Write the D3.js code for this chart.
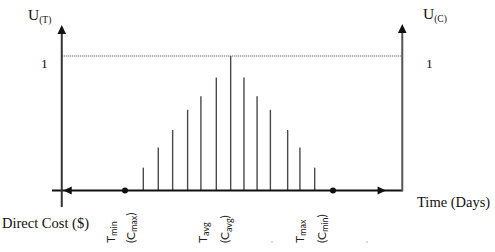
<!DOCTYPE html>
<html><head><meta charset="utf-8">
<script src="https://cdn.jsdelivr.net/npm/d3@7"></script>
<style>body{margin:0;background:#fff}svg{display:block}</style>
</head><body>
<script>
// Data (time positions in normalized units: Tmin = 0, Tmax = 100)
const stemTimes = [8.8, 16.0, 22.9, 30.1, 36.5, 43.9, 50.8, 57.2, 63.5, 69.9, 78.2, 84.1, 91.2];
const stemUtility = [0.17, 0.32, 0.45, 0.60, 0.70, 0.84, 1.0, 0.84, 0.70, 0.60, 0.45, 0.32, 0.17];
const markerTimes = [0, 100];
const maxUtility = 1;
const axisLeftTime = -30.4, axisRightTime = 133.3;
const tickLabels = [
  {main:"T", sub:"min", time:-5},
  {main:"(C", sub:"max", tail:")", time:4.8},
  {main:"T", sub:"avg", time:39.3},
  {main:"(C", sub:"avg", tail:")", time:50},
  {main:"T", sub:"max", time:86},
  {main:"(C", sub:"min", tail:")", time:96.6}
];

const W = 495, H = 252;
const SERIF = '"Liberation Serif"';
const SANS = '"Lato"';
const svg = d3.select("body").append("svg").attr("width", W).attr("height", H);
const x = d3.scaleLinear().domain([0, 100]).range([125, 333]);
const y = d3.scaleLinear().domain([0, 1]).range([190.5, 56]);
const base = y(0);
const xl = x(axisLeftTime), xr = x(axisRightTime);

// dotted max line
svg.append("line").attr("x1", xl).attr("x2", xr).attr("y1", y(maxUtility)).attr("y2", y(maxUtility))
  .attr("stroke", "#444").attr("stroke-width", 1).attr("stroke-dasharray", "1,1");

// stems
svg.selectAll("line.stem").data(stemTimes).join("line").attr("class","stem")
  .attr("x1", d => x(d)).attr("x2", d => x(d))
  .attr("y1", base).attr("y2", (d,i) => y(stemUtility[i]))
  .attr("stroke", "#4a4a4a").attr("stroke-width", 1.4);

// horizontal axis
svg.append("line").attr("x1", 52).attr("x2", xr).attr("y1", base).attr("y2", base)
  .attr("stroke", "#111").attr("stroke-width", 2);
svg.append("path").attr("d", `M${xl+1.5},${base} L${xl+10},${base-4} L${xl+10},${base+4} Z`).attr("fill", "#111");
svg.append("path").attr("d", `M${x(125.5)},${base} L${x(125.5)-8.5},${base-4} L${x(125.5)-8.5},${base+4} Z`).attr("fill", "#111");

// vertical axes
svg.append("line").attr("x1", xl).attr("x2", xl).attr("y1", 33).attr("y2", 207)
  .attr("stroke", "#333").attr("stroke-width", 2);
svg.append("path").attr("d", `M${xl},25 L${xl-4.3},34 L${xl+4.3},34 Z`).attr("fill", "#111");
svg.append("line").attr("x1", xr).attr("x2", xr).attr("y1", 32).attr("y2", base+1)
  .attr("stroke", "#555").attr("stroke-width", 2);
svg.append("path").attr("d", `M${xr},24 L${xr-4.3},33 L${xr+4.3},33 Z`).attr("fill", "#111");

// marker dots
svg.selectAll("circle.m").data(markerTimes).join("circle").attr("class","m")
  .attr("cx", d => x(d)).attr("cy", base).attr("r", 3).attr("fill", "#111");

// serif labels
function serifText(px, py, size, str){
  return svg.append("text").attr("x", px).attr("y", py)
    .style("font-family", SERIF).style("font-size", size + "px").attr("fill", "#111").text(str);
}
function uLabel(px, py, sub){
  const t = svg.append("text").attr("x", px).attr("y", py)
    .style("font-family", SERIF).style("font-size", "15.5px").attr("fill", "#111");
  t.append("tspan").text("U");
  t.append("tspan").style("font-size", "9.5px").attr("dy", 3).text(sub);
}
uLabel(28, 20, "(T)");
uLabel(423, 19, "(C)");
serifText(41, 68, 13.5, "1");
serifText(426, 68, 13.5, "1");
serifText(2, 228, 14.5, "Direct Cost ($)");
serifText(417, 207, 14.5, "Time (Days)");

// rotated sans labels
tickLabels.forEach(l => {
  const px = x(l.time);
  const t = svg.append("text").attr("transform", `translate(${px},243) rotate(-90)`)
    .style("font-family", SANS).style("font-size", "12px").attr("fill", "#222");
  t.append("tspan").text(l.main);
  t.append("tspan").style("font-size", "9px").attr("dy", 2.5).text(l.sub);
  if (l.tail) t.append("tspan").attr("dy", -2.5).text(l.tail);
});
svg.append("circle").attr("cx", 272).attr("cy", 242).attr("r", 0.7).attr("fill", "#999");
svg.append("circle").attr("cx", 367).attr("cy", 242).attr("r", 0.7).attr("fill", "#999");
</script>
</body></html>
